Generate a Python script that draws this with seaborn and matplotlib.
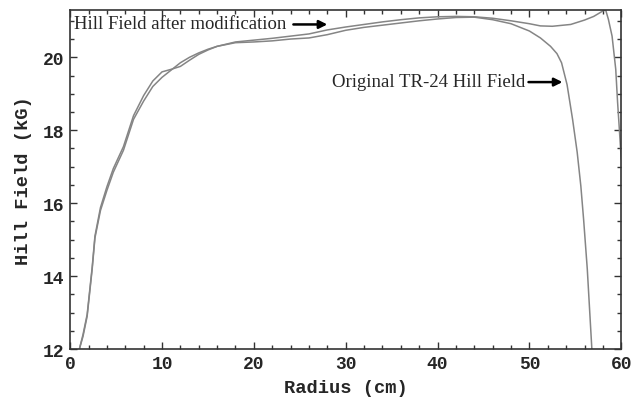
import pandas as pd
import matplotlib
matplotlib.use('Agg')
import matplotlib.pyplot as plt
import seaborn as sns
from matplotlib.ticker import MultipleLocator

# Hill field after modification
radius_mod = [1.0, 1.4, 1.85, 2.4, 2.7, 3.3, 4.0, 4.7, 5.8, 6.9, 8.0, 9.0, 10.0, 11.0,
              12.0, 13.0, 14.0, 15.0, 16.0, 18.0, 20.0, 22.0, 24.0, 26.0, 28.0, 30.0,
              32.0, 34.0, 36.0, 38.0, 40.0, 42.0, 44.0, 46.0, 48.0, 50.0, 51.2, 52.5,
              54.5, 56.0, 57.0, 58.0, 58.3, 58.6, 59.0, 59.4, 59.6, 59.8, 60.0]
field_mod = [12.0, 12.35, 12.9, 14.2, 15.05, 15.8, 16.35, 16.85, 17.45, 18.3, 18.8, 19.2,
             19.45, 19.65, 19.85, 20.0, 20.12, 20.22, 20.3, 20.42, 20.47, 20.52, 20.58,
             20.64, 20.75, 20.83, 20.9, 20.97, 21.03, 21.08, 21.11, 21.12, 21.11, 21.07,
             21.0, 20.92, 20.86, 20.85, 20.9, 21.02, 21.12, 21.27, 21.3, 21.04, 20.58,
             19.67, 18.77, 18.0, 17.2]

# original TR-24 hill field
radius_orig = [1.0, 1.4, 1.85, 2.4, 2.7, 3.3, 4.0, 4.7, 5.8, 6.9, 8.0, 9.0, 10.0, 11.0,
               12.0, 13.0, 14.0, 15.0, 16.0, 18.0, 20.0, 22.0, 24.0, 26.0, 28.0, 30.0,
               32.0, 34.0, 36.0, 38.0, 40.0, 42.0, 44.0, 46.0, 48.0, 50.0, 51.2, 52.3,
               53.0, 53.5, 54.1, 54.7, 55.2, 55.6, 55.9, 56.3, 56.8]
field_orig = [12.0, 12.4, 12.95, 14.25, 15.1, 15.88, 16.45, 16.95, 17.55, 18.4, 18.95,
              19.35, 19.6, 19.67, 19.75, 19.92, 20.08, 20.2, 20.3, 20.4, 20.42, 20.45,
              20.5, 20.53, 20.62, 20.74, 20.82, 20.88, 20.94, 21.0, 21.05, 21.09, 21.1,
              21.03, 20.92, 20.72, 20.53, 20.3, 20.1, 19.85, 19.25, 18.3, 17.4, 16.47,
              15.56, 14.2, 12.0]

df = pd.concat([
    pd.DataFrame({'radius': radius_mod, 'field': field_mod, 'curve': 'modified'}),
    pd.DataFrame({'radius': radius_orig, 'field': field_orig, 'curve': 'original'}),
])

sns.set_style('ticks')
plt.rcParams['font.family'] = ['Liberation Mono', 'DejaVu Sans']

fig = plt.figure(figsize=(6.32, 4.02), dpi=100)
ax = fig.add_axes([0.111, 0.129, 0.872, 0.844])

sns.lineplot(data=df, x='radius', y='field', hue='curve', units='curve', estimator=None,
             sort=False, palette=['#858585', '#858585'], linewidth=1.1, legend=False, ax=ax)

ax.set_xlim(0, 60)
ax.set_ylim(12, 21.3)
ax.xaxis.set_major_locator(MultipleLocator(10))
ax.xaxis.set_minor_locator(MultipleLocator(2))
ax.yaxis.set_major_locator(MultipleLocator(2))
ax.yaxis.set_minor_locator(MultipleLocator(0.5))
ax.tick_params(which='both', direction='in', top=True, right=True, width=1, color='#333333')
ax.tick_params(which='major', length=5, labelsize=13, pad=4)
ax.tick_params(which='minor', length=3)
for lab in ax.get_xticklabels() + ax.get_yticklabels():
    lab.set_fontweight('bold')
for s in ax.spines.values():
    s.set_linewidth(1.2)
    s.set_color('#333333')

ax.set_xlabel('Radius (cm)', fontsize=13.5, fontweight='bold', labelpad=5)
ax.set_ylabel('Hill Field (kG)', fontsize=13.5, fontweight='bold', labelpad=8)

ax.annotate('', xy=(28.3, 20.9), xytext=(24.0, 20.9),
            arrowprops=dict(arrowstyle='-|>', color='black', lw=1.8, mutation_scale=12))
ax.text(0.4, 20.92, 'Hill Field after modification', family='Liberation Serif',
        fontsize=13.5, va='center', ha='left')
ax.annotate('', xy=(53.9, 19.32), xytext=(49.6, 19.32),
            arrowprops=dict(arrowstyle='-|>', color='black', lw=1.8, mutation_scale=12))
ax.text(49.5, 19.34, 'Original TR-24 Hill Field', family='Liberation Serif',
        fontsize=13.5, va='center', ha='right')

fig.savefig('out.png', dpi=100)
